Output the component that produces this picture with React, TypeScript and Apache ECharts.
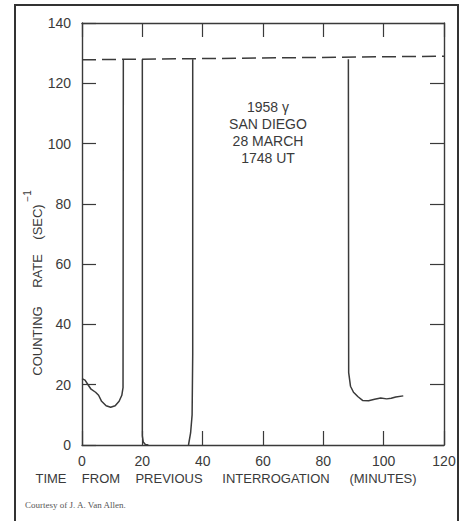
import React, { useEffect, useRef } from "react";
import * as echarts from "echarts";

// ---- Data ----
const xTicks = [0, 20, 40, 60, 80, 100, 120];
const yTicks = [0, 20, 40, 60, 80, 100, 120, 140];

// trace before first saturation (minutes, counts/sec)
const seg1X = [0, 1, 2, 3, 4.5, 5.5, 6.5, 8, 9.5, 11, 12.3, 13.2, 13.6, 13.7];
const seg1Y = [22, 21.5, 20, 18.5, 17.5, 16.5, 14.5, 13, 12.5, 13, 14.5, 16.5, 19, 128];
// drop from saturation to zero
const seg2X = [20, 20, 20.3, 21, 22];
const seg2Y = [128, 3, 1, 0.2, 0];
// rise from zero into saturation
const seg3X = [35.3, 36, 36.5, 36.7, 36.7];
const seg3Y = [0, 4, 10, 30, 128];
// drop from saturation and following trace
const seg4X = [88.3, 88.4, 89, 90, 91.5, 93, 95, 97, 99, 101, 102.5, 104, 106.5];
const seg4Y = [128, 24, 19.5, 17.5, 16, 14.8, 14.7, 15.2, 15.6, 15.3, 15.5, 15.9, 16.3];
// saturation level (dashed)
const satX = [0, 120];
const satY = [127.8, 129];

const annotation = ["1958 \u03B3", "SAN DIEGO", "28 MARCH", "1748 UT"];
const xNameWords = ["TIME", "FROM", "PREVIOUS", "INTERROGATION", "(MINUTES)"];
const yNameWords = ["COUNTING", "RATE", "(SEC)"];
const credit = "Courtesy of J. A. Van Allen.";

const zip = (xs: number[], ys: number[]) => xs.map((x, i) => [x, ys[i]]);

const INK = "#3a3a3a";
const FONT = "Liberation Sans";

export default function App() {
  const ref = useRef<HTMLDivElement>(null);
  useEffect(() => {
    if (!ref.current) return;
    const chart = echarts.init(ref.current, null, { renderer: "svg" });
    const axisLine = { show: true, onZero: false, lineStyle: { color: INK, width: 1.4 } };
    const tickIn = { show: true, inside: true, length: 14, lineStyle: { color: INK, width: 1.2 } };
    const lineSeries = (xs: number[], ys: number[]) => ({
      type: "line",
      data: zip(xs, ys),
      showSymbol: false,
      symbol: "none",
      smooth: false,
      lineStyle: { color: INK, width: 1.5 },
      xAxisIndex: 0,
      yAxisIndex: 0,
    });
    const xNamePos = [51, 101, 169, 276, 383];
    const yNamePos = [341, 271, 222];
    const annY = [107, 124, 141, 158];
    chart.setOption({
      animation: false,
      backgroundColor: "#ffffff",
      grid: { left: 82, right: 20, top: 23, bottom: 76 },
      xAxis: [
        {
          type: "value",
          min: 0,
          max: 120,
          interval: 20,
          position: "bottom",
          axisLine,
          axisTick: tickIn,
          splitLine: { show: false },
          axisLabel: { color: INK, fontFamily: FONT, fontSize: 14, margin: 9 },
        },
        {
          type: "value",
          min: 0,
          max: 120,
          interval: 20,
          position: "top",
          axisLine,
          axisTick: tickIn,
          splitLine: { show: false },
          axisLabel: { show: false },
        },
      ],
      yAxis: [
        {
          type: "value",
          min: 0,
          max: 140,
          interval: 20,
          position: "left",
          axisLine,
          axisTick: tickIn,
          splitLine: { show: false },
          axisLabel: { color: INK, fontFamily: FONT, fontSize: 14, margin: 11 },
        },
        {
          type: "value",
          min: 0,
          max: 140,
          interval: 20,
          position: "right",
          axisLine,
          axisTick: tickIn,
          splitLine: { show: false },
          axisLabel: { show: false },
        },
      ],
      series: [
        {
          type: "line",
          data: zip(satX, satY),
          showSymbol: false,
          symbol: "none",
          lineStyle: { color: INK, width: 1.5, type: [14, 6] },
        },
        lineSeries(seg1X, seg1Y),
        lineSeries(seg2X, seg2Y),
        lineSeries(seg3X, seg3Y),
        lineSeries(seg4X, seg4Y),
      ],
      graphic: [
        {
          type: "rect",
          shape: { x: 15, y: 5, width: 443, height: 540 },
          style: { fill: "none", stroke: "#333", lineWidth: 2 },
          silent: true,
        },
        ...annotation.map((t, i) => ({
          type: "text",
          x: 268,
          y: annY[i],
          style: {
            text: t,
            fill: INK,
            font: `14px "${FONT}"`,
            textAlign: "center",
            textVerticalAlign: "middle",
          },
        })),
        ...xNameWords.map((t, i) => ({
          type: "text",
          x: xNamePos[i],
          y: 478,
          style: {
            text: t,
            fill: INK,
            font: `13px "${FONT}"`,
            textAlign: "center",
            textVerticalAlign: "middle",
          },
        })),
        ...yNameWords.map((t, i) => ({
          type: "text",
          x: 37,
          y: yNamePos[i],
          rotation: Math.PI / 2,
          style: {
            text: t,
            fill: INK,
            font: `13px "${FONT}"`,
            textAlign: "center",
            textVerticalAlign: "middle",
          },
        })),
        {
          type: "text",
          x: 27,
          y: 196,
          rotation: Math.PI / 2,
          style: {
            text: "\u2212" + "1",
            fill: INK,
            font: `10px "${FONT}"`,
            textAlign: "center",
            textVerticalAlign: "middle",
          },
        },
        {
          type: "text",
          x: 25,
          y: 505,
          style: {
            text: credit,
            fill: "#555",
            font: `9px "Liberation Serif"`,
            textAlign: "left",
            textVerticalAlign: "middle",
          },
        },
      ],
    });
    return () => chart.dispose();
  }, []);
  return (
    <div
      ref={ref}
      style={{ position: "fixed", left: 0, top: 0, width: 464, height: 521, background: "#fff" }}
    />
  );
}
